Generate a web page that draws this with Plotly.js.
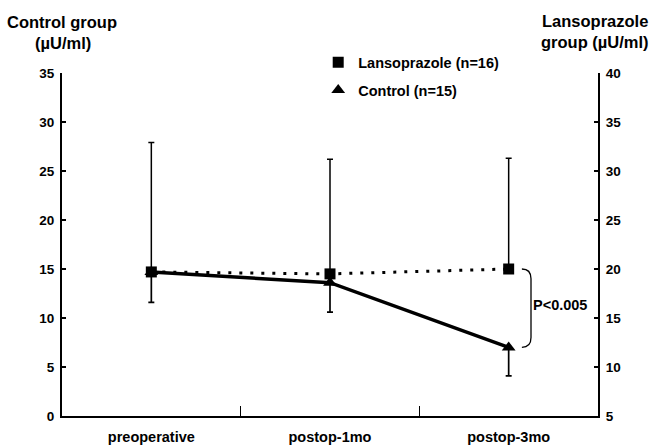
<!DOCTYPE html>
<html><head><meta charset="utf-8">
<script src="https://cdn.plot.ly/plotly-3.0.1.min.js"></script>
<style>html,body{margin:0;padding:0;background:#fff}</style>
</head><body>
<div id="chart" style="width:650px;height:445px"></div>
<script>
const categories = ['preoperative', 'postop-1mo', 'postop-3mo'];
// Lansoprazole group, right axis (µU/ml)
const lansoMean = [19.7, 19.5, 20.0];
const lansoUpper = [32.9, 31.2, 31.3];
// Control group, left axis (µU/ml)
const controlMean = [14.7, 13.6, 7.0];
const controlLower = [11.6, 10.6, 4.1];
const leftTicks = [0, 5, 10, 15, 20, 25, 30, 35];
const rightTicks = [5, 10, 15, 20, 25, 30, 35, 40];

const lansoPlus = lansoUpper.map((u, i) => u - lansoMean[i]);
const controlMinus = controlMean.map((m, i) => m - controlLower[i]);
const zeros = categories.map(() => 0);

const FAM = 'Liberation Sans, Arial, sans-serif';
const f = (s) => ({family: FAM, size: s, color: '#000', weight: 'bold'});

const traces = [
  {
    x: categories, y: controlMean, yaxis: 'y', type: 'scatter', mode: 'lines+markers',
    line: {color: '#000', width: 3.5},
    marker: {symbol: 'triangle-up', size: 12, color: '#000'},
    error_y: {type: 'data', symmetric: false, array: zeros, arrayminus: controlMinus,
              color: '#000', thickness: 1.7, width: 3},
    showlegend: false, cliponaxis: false
  },
  {
    x: categories, y: lansoMean, yaxis: 'y2', type: 'scatter', mode: 'lines+markers',
    line: {color: '#000', width: 3, dash: '3px,8px'},
    marker: {symbol: 'square', size: 11, color: '#000'},
    error_y: {type: 'data', symmetric: false, array: lansoPlus, arrayminus: zeros,
              color: '#000', thickness: 1.5, width: 3},
    showlegend: false, cliponaxis: false
  },
  {
    x: [null], y: [null], yaxis: 'y2', type: 'scatter', mode: 'markers', name: 'Lansoprazole (n=16)',
    marker: {symbol: 'square', size: 11, color: '#000'}, legendgroup: 'a'
  },
  {
    x: [null], y: [null], yaxis: 'y', type: 'scatter', mode: 'markers', name: 'Control (n=15)',
    marker: {symbol: 'triangle-up', size: 12, color: '#000'}, legendgroup: 'b'
  }
];

const layout = {
  width: 650, height: 445,
  margin: {l: 62, r: 52, t: 73, b: 29},
  paper_bgcolor: '#fff', plot_bgcolor: '#fff',
  font: f(13),
  showlegend: true,
  legend: {x: 0.478, y: 1.078, xanchor: 'left', yanchor: 'top', font: f(14.5),
           tracegroupgap: 6, bgcolor: 'rgba(0,0,0,0)'},
  xaxis: {
    type: 'category', range: [-0.5, 2.5], tickson: 'boundaries', ticks: 'inside', ticklen: 10,
    tickwidth: 1.5, tickcolor: '#000', showline: true, linecolor: '#000', linewidth: 2,
    showgrid: false, zeroline: false, fixedrange: true,
    tickfont: f(14.5), ticklabelstandoff: 7
  },
  yaxis: {
    range: [0, 35], tickvals: leftTicks, ticks: 'inside', ticklen: 4, tickwidth: 1.5, tickcolor: '#000',
    showline: true, linecolor: '#000', linewidth: 2, showgrid: false, zeroline: false,
    tickfont: f(13.5), ticklabelstandoff: 3
  },
  yaxis2: {
    range: [5, 40], tickvals: rightTicks, overlaying: 'y', side: 'right', ticks: 'inside', ticklen: 4,
    tickwidth: 1.5, tickcolor: '#000', showline: true, linecolor: '#000', linewidth: 2,
    showgrid: false, zeroline: false, tickfont: f(13.5), ticklabelstandoff: 3
  },
  shapes: [
    {type: 'path', xref: 'paper', yref: 'y2', line: {color: '#000', width: 1.3},
     path: 'M 0.858 20 Q 0.875 20 0.875 19 L 0.875 13 Q 0.875 12 0.858 12'}
  ],
  annotations: [
    {xref: 'paper', yref: 'paper', x: (531 - 62) / 536, y: (416 - 305) / 343, xanchor: 'left', yanchor: 'middle',
     text: 'P<0.005', showarrow: false, font: f(14.5)},
    {xref: 'paper', yref: 'paper', x: (62 - 62) / 536, y: (416 - 22) / 343, xanchor: 'center', yanchor: 'middle',
     text: 'Control group', showarrow: false, font: f(16.5)},
    {xref: 'paper', yref: 'paper', x: (63 - 62) / 536, y: (416 - 43) / 343, xanchor: 'center', yanchor: 'middle',
     text: '(µU/ml)', showarrow: false, font: f(16.5)},
    {xref: 'paper', yref: 'paper', x: (595 - 62) / 536, y: (416 - 21) / 343, xanchor: 'center', yanchor: 'middle',
     text: 'Lansoprazole', showarrow: false, font: f(16.5)},
    {xref: 'paper', yref: 'paper', x: (595 - 62) / 536, y: (416 - 42) / 343, xanchor: 'center', yanchor: 'middle',
     text: 'group (µU/ml)', showarrow: false, font: f(16.5)}
  ]
};

Plotly.newPlot('chart', traces, layout, {displayModeBar: false, staticPlot: true});
</script>
</body></html>
